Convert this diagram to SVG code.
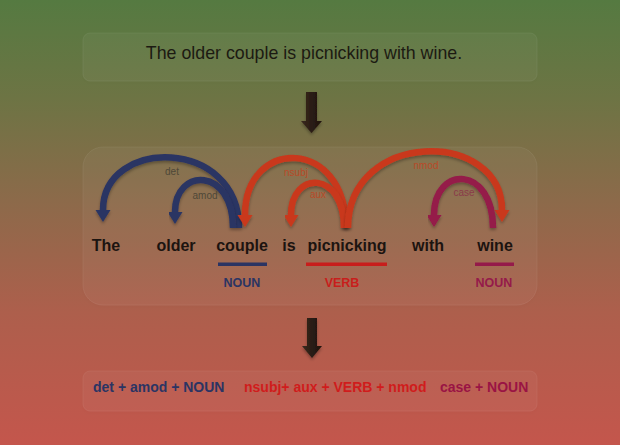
<svg xmlns="http://www.w3.org/2000/svg" width="620" height="445" viewBox="0 0 620 445">
<defs>
<linearGradient id="bg" x1="0" y1="0" x2="0" y2="1">
<stop offset="0" stop-color="#557a41"/>
<stop offset="0.22" stop-color="#6d7444"/>
<stop offset="0.45" stop-color="#8c6a4a"/>
<stop offset="0.7" stop-color="#ad5f4c"/>
<stop offset="1" stop-color="#c4564c"/>
</linearGradient>
<linearGradient id="darr" x1="0" y1="0" x2="1" y2="0">
<stop offset="0" stop-color="#3a2a1e"/>
<stop offset="0.5" stop-color="#2a1c14"/>
<stop offset="1" stop-color="#1e140e"/>
</linearGradient>
<filter id="sh" x="-5%" y="-10%" width="110%" height="130%">
<feDropShadow dx="0" dy="2" stdDeviation="1.5" flood-color="#000" flood-opacity="0.3"/>
</filter>
<filter id="ash" x="-10%" y="-10%" width="120%" height="130%">
<feDropShadow dx="0" dy="2" stdDeviation="1.5" flood-color="#000" flood-opacity="0.3"/>
</filter>
<marker id="mNavy" viewBox="0 -8 12 16" refX="0" refY="0" markerWidth="12" markerHeight="16" markerUnits="userSpaceOnUse" orient="auto"><path d="M0,-7.5 L12,0 L0,7.5 z" fill="#2b3463"/></marker>
<marker id="mRed" viewBox="0 -8 12 16" refX="0" refY="0" markerWidth="12" markerHeight="16" markerUnits="userSpaceOnUse" orient="auto"><path d="M0,-7.5 L12,0 L0,7.5 z" fill="#c9381c"/></marker>
<marker id="mCrim" viewBox="0 -8 12 16" refX="0" refY="0" markerWidth="12" markerHeight="16" markerUnits="userSpaceOnUse" orient="auto"><path d="M0,-7.5 L12,0 L0,7.5 z" fill="#951a4a"/></marker>
</defs>
<style>
.box{fill:#ffffff;fill-opacity:0.035;stroke:#ffffff;stroke-opacity:0.06;stroke-width:1;filter:url(#sh)}
.word{font-family:"Liberation Sans",Arial,sans-serif;font-weight:bold;font-size:16px;fill:#1c1410;text-anchor:middle}
.pos{font-family:"Liberation Sans",Arial,sans-serif;font-weight:bold;font-size:12.5px;text-anchor:middle}
.lbl{font-family:"Liberation Sans",Arial,sans-serif;font-size:10px;text-anchor:middle}
.sum{font-family:"Liberation Sans",Arial,sans-serif;font-weight:bold;font-size:14px}
.arc{fill:none;stroke-width:6.5;stroke-linecap:butt;filter:url(#ash)}
.navy{stroke:#2b3463}
.red{stroke:#c9381c}
.crim{stroke:#951a4a}
</style>
<rect width="620" height="445" fill="url(#bg)"/>

<g id="sentence-box">
<rect class="box" x="83" y="33" width="454" height="48" rx="7"/>
<text x="304" y="59" font-family="'Liberation Sans',Arial,sans-serif" font-size="17.8" fill="#1c1a12" text-anchor="middle">The older couple is picnicking with wine.</text>
</g>

<g id="arrow-1">
<polygon points="306,92 317,92 317,121 322,121 311.5,133 301,121 306,121" fill="url(#darr)" filter="url(#ash)"/>
</g>

<g id="parse-box">
<rect class="box" x="83" y="147" width="454" height="158" rx="20"/>
</g>

<g id="connectors">
<path class="arc navy" d="M239,228 C239,137 103,137 103,210" marker-end="url(#mNavy)"/>
<path class="arc navy" d="M233,228 C233,167 175,167 175,212" marker-end="url(#mNavy)"/>
<path class="arc red" d="M346,228 C346,137 245,137 245,215" marker-end="url(#mRed)"/>
<path class="arc red" d="M344,228 C344,170 291,170 291,215" marker-end="url(#mRed)"/>
<path class="arc red" d="M348,228 C348,129 502,129 502,210" marker-end="url(#mRed)"/>
<path class="arc crim" d="M493,228 C493,165 434,165 434,215" marker-end="url(#mCrim)"/>
<text class="lbl" x="172" y="175" fill="#4e4838">det</text>
<text class="lbl" x="205" y="199" fill="#4e4838">amod</text>
<text class="lbl" x="296" y="176" fill="#b84a28">nsubj</text>
<text class="lbl" x="318" y="198" fill="#b84a28">aux</text>
<text class="lbl" x="426" y="169" fill="#b84a28">nmod</text>
<text class="lbl" x="464" y="196" fill="#8a3a4a">case</text>
</g>

<g id="w-The"><text class="word" x="106" y="251">The</text></g>
<g id="w-older"><text class="word" x="176" y="251">older</text></g>
<g id="w-couple"><text class="word" x="242" y="251">couple</text>
<rect x="218" y="262.5" width="49" height="3.5" fill="#2b3463"/>
<text class="pos" x="242" y="287" fill="#2b3463">NOUN</text></g>
<g id="w-is"><text class="word" x="289" y="251">is</text></g>
<g id="w-picnicking"><text class="word" x="347" y="251">picnicking</text>
<rect x="306" y="262.5" width="81" height="3.5" fill="#c81e1c"/>
<text class="pos" x="342" y="287" fill="#c81e1c">VERB</text></g>
<g id="w-with"><text class="word" x="428" y="251">with</text></g>
<g id="w-wine"><text class="word" x="495" y="251">wine</text>
<rect x="475" y="262.5" width="39" height="3.5" fill="#951a4a"/>
<text class="pos" x="494" y="287" fill="#951a4a">NOUN</text></g>

<g id="arrow-2">
<polygon points="307,318 317,318 317,346 322,346 312,358 302,346 307,346" fill="url(#darr)" filter="url(#ash)"/>
</g>

<g id="summary-box">
<rect class="box" x="83" y="371" width="454" height="40" rx="7"/>
<text class="sum" x="93" y="392" fill="#2b3463">det + amod + NOUN</text>
<text class="sum" x="244" y="392" fill="#d01c1c">nsubj+ aux + VERB + nmod</text>
<text class="sum" x="440" y="392" fill="#9a1444">case + NOUN</text>
</g>
</svg>
